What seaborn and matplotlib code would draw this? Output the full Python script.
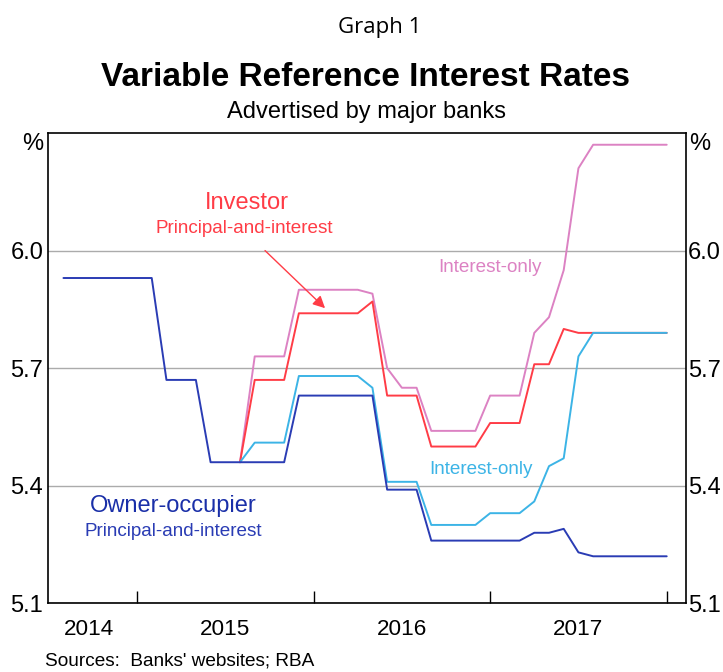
import matplotlib
matplotlib.use("Agg")
import pandas as pd
import matplotlib.pyplot as plt
import matplotlib.transforms as mtransforms
import seaborn as sns

# month index: 0 = January 2015 (monthly observations)
months_oo = [-5, -4, -3, -2, -1, 0, 1, 2, 3, 4, 5, 6, 7, 8, 9, 10, 11, 12, 13, 14, 15,
             16, 17, 18, 19, 20, 21, 22, 23, 24, 25, 26, 27, 28, 29, 30, 31, 32, 33, 34, 35, 36]
months_inv = [7, 8, 9, 10, 11, 12, 13, 14, 15, 16, 17, 18, 19, 20, 21,
              22, 23, 24, 25, 26, 27, 28, 29, 30, 31, 32, 33, 34, 35, 36]

# Owner-occupier, principal-and-interest
oo_pi = [5.93, 5.93, 5.93, 5.93, 5.93, 5.93, 5.93, 5.67, 5.67, 5.67, 5.46, 5.46, 5.46, 5.46,
         5.46, 5.46, 5.63, 5.63, 5.63, 5.63, 5.63, 5.63, 5.39, 5.39, 5.39, 5.26, 5.26, 5.26,
         5.26, 5.26, 5.26, 5.26, 5.28, 5.28, 5.29, 5.23, 5.22, 5.22, 5.22, 5.22, 5.22, 5.22]
# Owner-occupier, interest-only
oo_io = [5.46, 5.51, 5.51, 5.51, 5.68, 5.68, 5.68, 5.68, 5.68, 5.65, 5.41, 5.41, 5.41, 5.30, 5.30,
         5.30, 5.30, 5.33, 5.33, 5.33, 5.36, 5.45, 5.47, 5.73, 5.79, 5.79, 5.79, 5.79, 5.79, 5.79]
# Investor, principal-and-interest
inv_pi = [5.46, 5.67, 5.67, 5.67, 5.84, 5.84, 5.84, 5.84, 5.84, 5.87, 5.63, 5.63, 5.63, 5.50, 5.50,
          5.50, 5.50, 5.56, 5.56, 5.56, 5.71, 5.71, 5.80, 5.79, 5.79, 5.79, 5.79, 5.79, 5.79, 5.79]
# Investor, interest-only
inv_io = [5.46, 5.73, 5.73, 5.73, 5.90, 5.90, 5.90, 5.90, 5.90, 5.89, 5.70, 5.65, 5.65, 5.54, 5.54,
          5.54, 5.54, 5.63, 5.63, 5.63, 5.79, 5.83, 5.95, 6.21, 6.27, 6.27, 6.27, 6.27, 6.27, 6.27]

year_labels = ["2014", "2015", "2016", "2017"]
year_label_pos = [-3.25, 6, 18, 30]
year_ticks = [0, 12, 24, 36]
y_ticks = [5.1, 5.4, 5.7, 6.0]

dark_blue = "#2a3cb4"
light_blue = "#3cb4e6"
pink = "#dc82c3"
red = "#ff3c46"

df = pd.concat([
    pd.DataFrame({"month": months_inv, "rate": inv_io, "series": "Investor IO"}),
    pd.DataFrame({"month": months_inv, "rate": inv_pi, "series": "Investor P&I"}),
    pd.DataFrame({"month": months_inv, "rate": oo_io, "series": "Owner-occupier IO"}),
    pd.DataFrame({"month": months_oo, "rate": oo_pi, "series": "Owner-occupier P&I"}),
])
colors = {"Investor IO": pink, "Investor P&I": red,
          "Owner-occupier IO": light_blue, "Owner-occupier P&I": dark_blue}

sns.set_theme(style="white")
plt.rcParams["font.family"] = ["Liberation Sans", "DejaVu Sans"]
plt.rcParams["text.color"] = "black"
plt.rcParams["xtick.color"] = "black"
plt.rcParams["ytick.color"] = "black"

fig = plt.figure(figsize=(7.23, 6.72), dpi=100)
ax = fig.add_axes([0.0668, 0.1022, 0.882, 0.6999])

# draw one series at a time so the stacking order is fixed
for name in ["Investor IO", "Investor P&I", "Owner-occupier IO", "Owner-occupier P&I"]:
    sns.lineplot(data=df[df["series"] == name], x="month", y="rate", color=colors[name],
                 lw=1.4, estimator=None, sort=False, ax=ax)

ax.set_xlim(-6.03, 37.31)
ax.set_ylim(5.1, 6.3)
ax.set_xlabel("")
ax.set_ylabel("")

ax.set_yticks(y_ticks)
ax.set_yticklabels([f"{v:.1f}" for v in y_ticks])
ax.tick_params(axis="y", length=0, labelsize=17, pad=3.6, labelcolor="black")
ax.grid(axis="y", color="#ababab", lw=1.0)
ax.grid(axis="x", visible=False)

ax.set_xticks(year_ticks)
ax.set_xticklabels([])
ax.set_xticks(year_label_pos, minor=True)
ax.set_xticklabels(year_labels, minor=True)
ax.tick_params(axis="x", which="major", direction="in", length=8.5, width=1, color="black", bottom=True)
ax.tick_params(axis="x", which="minor", length=0, labelsize=16.2, pad=11, labelcolor="black")

for s in ax.spines.values():
    s.set_color("black")
    s.set_linewidth(1.2)

ax2 = ax.twinx()
ax2.set_ylim(5.1, 6.3)
ax2.set_yticks(y_ticks)
ax2.set_yticklabels([f"{v:.1f}" for v in y_ticks])
ax2.tick_params(axis="y", length=0, labelsize=17, pad=1.5, labelcolor="black")
ax2.grid(False)
for s in ax2.spines.values():
    s.set_visible(False)

trans = mtransforms.blended_transform_factory(ax.transAxes, ax.transData)
ax.text(-0.0083, 6.3, "%", transform=trans, ha="right", va="top", fontsize=17)
ax.text(1.0047, 6.3, "%", transform=trans, ha="left", va="top", fontsize=17)

# series labels
ax.text(7.48, 6.1225, "Investor", color=red, fontsize=17, ha="center", va="center")
ax.text(7.31, 6.0558, "Principal-and-interest", color=red, fontsize=13.6, ha="center", va="center")
ax.text(24.0, 5.9576, "Interest-only", color=pink, fontsize=13.6, ha="center", va="center")
ax.text(23.39, 5.4403, "Interest-only", color=light_blue, fontsize=13.6, ha="center", va="center")
ax.text(2.45, 5.3482, "Owner-occupier", color="#1a2fa8", fontsize=17, ha="center", va="center")
ax.text(2.45, 5.283, "Principal-and-interest", color=dark_blue, fontsize=13.6, ha="center", va="center")
ax.annotate("", xy=(12.78, 5.853), xytext=(8.7, 6.0),
            arrowprops=dict(arrowstyle="-|>", color=red, lw=1.0, mutation_scale=18,
                            shrinkA=0, shrinkB=0))

fig.text(0.5256, 0.9598, "Graph 1", fontsize=16, ha="center", va="center",
         family=["Open Sans", "DejaVu Sans"])
fig.text(0.5062, 0.884, "Variable Reference Interest Rates", fontsize=24,
         fontweight="bold", ha="center", va="center")
fig.text(0.5076, 0.8333, "Advertised by major banks", fontsize=17, ha="center", va="center")
fig.text(0.0622, 0.0164, "Sources:  Banks' websites; RBA", fontsize=13.7, ha="left", va="center")

fig.savefig("out.png", dpi=100)
